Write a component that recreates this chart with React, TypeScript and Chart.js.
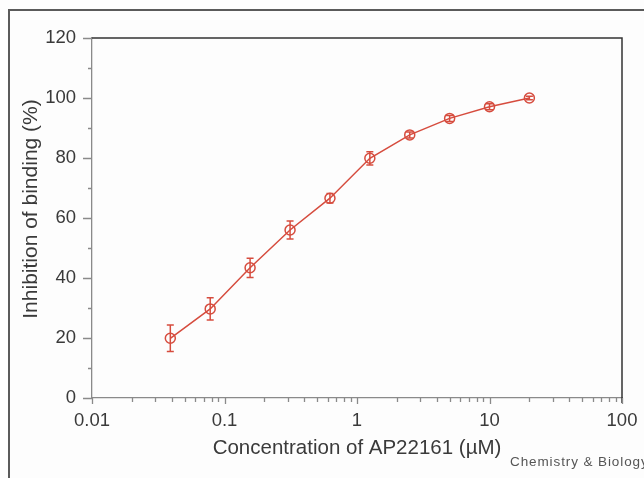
import React, { useEffect, useRef } from "react";
import { Chart, registerables } from "chart.js";

Chart.register(...registerables);

// ---- data ----
const concentrations = [0.039, 0.078, 0.156, 0.3125, 0.625, 1.25, 2.5, 5, 10, 20];
const inhibition = [19.9, 29.7, 43.4, 56, 66.6, 79.9, 87.7, 93.2, 97.1, 100];
const errors = [4.4, 3.7, 3.2, 3.0, 1.6, 2.2, 1.0, 1.0, 1.0, 0.6];

const xMajorTicks = [0.01, 0.1, 1, 10, 100];
const xMinorTicks = [
  0.02, 0.03, 0.04, 0.05, 0.06, 0.07, 0.08, 0.09,
  0.2, 0.3, 0.4, 0.5, 0.6, 0.7, 0.8, 0.9,
  2, 3, 4, 5, 6, 7, 8, 9,
  20, 30, 40, 50, 60, 70, 80, 90,
];
const yMajorTicks = [0, 20, 40, 60, 80, 100, 120];
const yMinorTicks = [10, 30, 50, 70, 90, 110];

const xTitle = "Concentration of AP22161 (\u00b5M)";
const yTitle = "Inhibition of binding (%)";
const sourceText = "Chemistry & Biology";

const RED = "rgb(214,76,62)";
const FONT = "'Liberation Sans', Arial, Helvetica, sans-serif";

const decorPlugin = {
  id: "decor",
  beforeDraw(chart: any) {
    const { ctx } = chart;
    ctx.save();
    ctx.fillStyle = "#fdfdfd";
    ctx.fillRect(0, 0, chart.width, chart.height);
    ctx.strokeStyle = "#5a5a5a";
    ctx.lineWidth = 2;
    ctx.beginPath();
    ctx.moveTo(9, chart.height + 5);
    ctx.lineTo(9, 10);
    ctx.lineTo(chart.width + 5, 10);
    ctx.stroke();
    ctx.restore();
  },
  afterDraw(chart: any) {
    const { ctx, chartArea } = chart;
    const xs = chart.scales.x;
    const ys = chart.scales.y;
    ctx.save();
    // frame top / right
    ctx.strokeStyle = "#333";
    ctx.lineWidth = 1.5;
    ctx.beginPath();
    ctx.moveTo(chartArea.left, chartArea.top);
    ctx.lineTo(chartArea.right, chartArea.top);
    ctx.lineTo(chartArea.right, chartArea.bottom + 5);
    ctx.stroke();
    // ticks
    ctx.strokeStyle = "#8a8a8a";
    ctx.lineWidth = 1.3;
    ctx.beginPath();
    for (const v of yMajorTicks) {
      const y = Math.round(ys.getPixelForValue(v)) + 0.5;
      ctx.moveTo(chartArea.left - 9, y);
      ctx.lineTo(chartArea.left, y);
    }
    for (const v of yMinorTicks) {
      const y = Math.round(ys.getPixelForValue(v)) + 0.5;
      ctx.moveTo(chartArea.left - 4, y);
      ctx.lineTo(chartArea.left, y);
    }
    for (const v of xMajorTicks) {
      const x = Math.round(xs.getPixelForValue(v)) + 0.5;
      ctx.moveTo(x, chartArea.bottom);
      ctx.lineTo(x, chartArea.bottom + 6);
    }
    for (const v of xMinorTicks) {
      const x = Math.round(xs.getPixelForValue(v)) + 0.5;
      ctx.moveTo(x, chartArea.bottom);
      ctx.lineTo(x, chartArea.bottom + 4);
    }
    ctx.stroke();
    // y axis title
    ctx.fillStyle = "#3a3a3a";
    ctx.font = `21px ${FONT}`;
    ctx.textAlign = "center";
    ctx.textBaseline = "middle";
    ctx.translate(31, 209);
    ctx.rotate(-Math.PI / 2);
    ctx.fillText(yTitle, 0, 0);
    ctx.setTransform(1, 0, 0, 1, 0, 0);
    // source text
    ctx.fillStyle = "#555";
    ctx.font = `13.5px ${FONT}`;
    (ctx as any).letterSpacing = "0.9px";
    ctx.textAlign = "left";
    ctx.textBaseline = "alphabetic";
    ctx.fillText(sourceText, 510, 466);
    ctx.restore();
  },
  afterDatasetsDraw(chart: any) {
    const { ctx } = chart;
    const xs = chart.scales.x;
    const ys = chart.scales.y;
    ctx.save();
    ctx.strokeStyle = RED;
    ctx.lineWidth = 1.5;
    ctx.beginPath();
    concentrations.forEach((c, i) => {
      const x = xs.getPixelForValue(c);
      const yTop = ys.getPixelForValue(inhibition[i] + errors[i]);
      const yBot = ys.getPixelForValue(inhibition[i] - errors[i]);
      ctx.moveTo(x, yTop);
      ctx.lineTo(x, yBot);
      ctx.moveTo(x - 3.5, yTop);
      ctx.lineTo(x + 3.5, yTop);
      ctx.moveTo(x - 3.5, yBot);
      ctx.lineTo(x + 3.5, yBot);
    });
    ctx.stroke();
    ctx.restore();
  },
};

export default function App() {
  const ref = useRef<HTMLCanvasElement | null>(null);
  useEffect(() => {
    if (!ref.current) return;
    const chart = new Chart(ref.current, {
      type: "line",
      data: {
        datasets: [
          {
            data: concentrations.map((c, i) => ({ x: c, y: inhibition[i] })),
            borderColor: RED,
            borderWidth: 1.5,
            pointRadius: 5,
            pointBorderWidth: 1.5,
            pointBorderColor: RED,
            pointBackgroundColor: "rgba(0,0,0,0)",
            tension: 0,
            fill: false,
          },
        ],
      },
      options: {
        animation: false,
        responsive: false,
        devicePixelRatio: 1,
        layout: { autoPadding: false, padding: { left: 0, top: 38, right: 22, bottom: 0 } },
        plugins: {
          legend: { display: false },
          tooltip: { enabled: false },
        },
        scales: {
          x: {
            type: "logarithmic",
            min: 0.01,
            max: 100,
            grid: { display: false, drawTicks: false },
            border: { display: true, color: "#8a8a8a", width: 1.3 },
            afterBuildTicks: (scale: any) => {
              scale.ticks = xMajorTicks.map((v) => ({ value: v }));
            },
            afterFit: (scale: any) => {
              scale.height = 80;
              scale.paddingLeft = 0;
              scale.paddingRight = 0;
            },
            ticks: {
              autoSkip: false,
              maxRotation: 0,
              padding: 12,
              color: "#3a3a3a",
              font: { family: FONT, size: 18.5 },
              callback: (v: any) => String(v),
            },
            title: {
              display: true,
              text: xTitle,
              color: "#3a3a3a",
              font: { family: FONT, size: 20.5 },
              padding: { top: 0, bottom: 17 },
            },
          },
          y: {
            type: "linear",
            min: 0,
            max: 120,
            grid: { display: false, drawTicks: false },
            border: { display: true, color: "#8a8a8a", width: 1.3 },
            afterBuildTicks: (scale: any) => {
              scale.ticks = yMajorTicks.map((v) => ({ value: v }));
            },
            afterFit: (scale: any) => {
              scale.width = 92;
              scale.paddingTop = 0;
              scale.paddingBottom = 0;
            },
            ticks: {
              padding: 16,
              color: "#3a3a3a",
              font: { family: FONT, size: 18.5 },
            },
            title: { display: false },
          },
        },
      },
      plugins: [decorPlugin],
    } as any);
    return () => chart.destroy();
  }, []);
  return (
    <div style={{ position: "absolute", left: 0, top: 0, width: 644, height: 478 }}>
      <canvas ref={ref} width={644} height={478} style={{ display: "block" }} />
    </div>
  );
}
